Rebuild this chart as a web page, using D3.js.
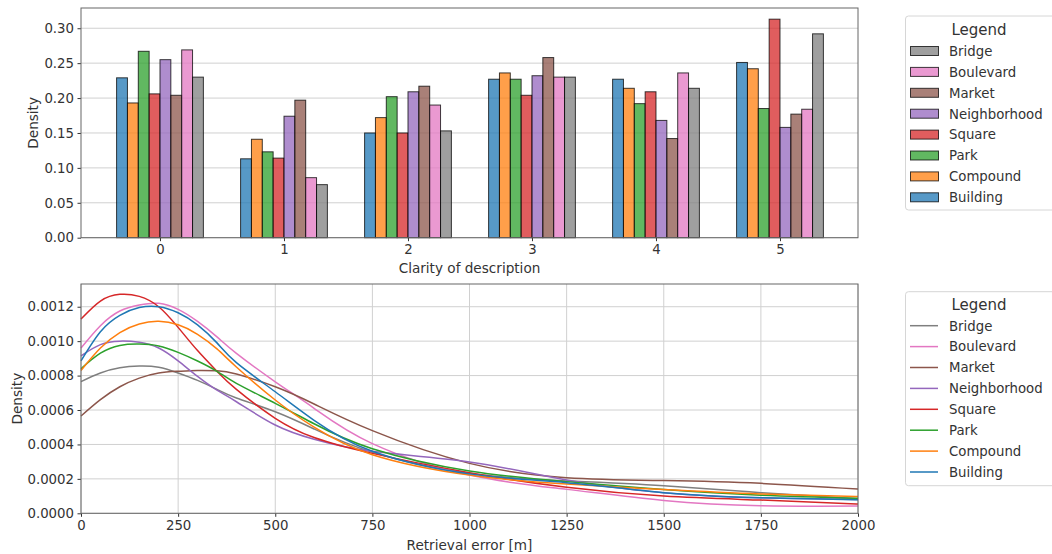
<!DOCTYPE html>
<html>
<head>
<meta charset="utf-8">
<script src="https://cdn.jsdelivr.net/npm/d3@7"></script>
<style>
    body { margin: 0; background: #fff; }
    svg text { font-family: "DejaVu Sans", sans-serif; fill: #333; }
</style>
</head>
<body>
<svg id="chart" width="1052" height="554"></svg>
<script>
// ---------- data ----------
const placeTypes = ["Building", "Compound", "Park", "Square", "Neighborhood", "Market", "Boulevard", "Bridge"];
const placeColors = ["#1f77b4", "#ff7f0e", "#2ca02c", "#d62728", "#9467bd", "#8c564b", "#e377c2", "#7f7f7f"];

// top panel: density per clarity level
const clarityLevels = [0, 1, 2, 3, 4, 5];
const buildingClarity     = [0.229, 0.113, 0.150, 0.227, 0.227, 0.251];
const compoundClarity     = [0.193, 0.141, 0.172, 0.236, 0.214, 0.242];
const parkClarity         = [0.267, 0.123, 0.202, 0.227, 0.192, 0.185];
const squareClarity       = [0.206, 0.114, 0.150, 0.204, 0.209, 0.313];
const neighborhoodClarity = [0.255, 0.174, 0.209, 0.232, 0.168, 0.158];
const marketClarity       = [0.204, 0.197, 0.217, 0.258, 0.142, 0.177];
const boulevardClarity    = [0.269, 0.086, 0.190, 0.230, 0.236, 0.184];
const bridgeClarity       = [0.230, 0.076, 0.153, 0.230, 0.214, 0.292];
const clarityTicks = [0, 0.05, 0.10, 0.15, 0.20, 0.25, 0.30];

// bottom panel: KDE of retrieval error, sampled on a grid
const errorGrid = [0, 50, 100, 150, 200, 250, 300, 350, 400, 500, 600, 750, 1000, 1250, 1500, 1750, 2000];
const buildingError     = [8.86, 10.55, 11.5, 11.95, 12.0, 11.65, 10.95, 9.9, 8.75, 7.06, 5.4, 3.6, 2.29, 1.78, 1.2, 0.9, 0.78];
const compoundError     = [8.3, 9.6, 10.5, 11.0, 11.15, 10.95, 10.4, 9.55, 8.5, 6.58, 5.0, 3.4, 2.22, 1.70, 1.38, 1.12, 0.97];
const parkError         = [8.4, 9.3, 9.75, 9.83, 9.72, 9.35, 8.85, 8.25, 7.55, 6.39, 5.2, 3.75, 2.46, 1.84, 1.38, 1.05, 0.87];
const squareError       = [11.28, 12.33, 12.72, 12.6, 12.0, 10.8, 9.45, 8.25, 7.2, 5.52, 4.4, 3.48, 2.36, 1.51, 1.0, 0.77, 0.54];
const neighborhoodError = [9.15, 9.8, 10.0, 9.93, 9.6, 8.85, 7.95, 7.15, 6.48, 5.13, 4.3, 3.6, 2.98, 1.94, 1.2, 0.9, 0.8];
const marketError       = [5.65, 6.6, 7.35, 7.85, 8.15, 8.25, 8.3, 8.28, 8.09, 7.35, 6.35, 4.8, 2.9, 2.07, 1.9, 1.74, 1.41];
const boulevardError    = [9.6, 10.9, 11.75, 12.1, 12.2, 11.85, 11.15, 10.25, 9.29, 7.64, 6.1, 4.05, 2.22, 1.39, 0.75, 0.44, 0.42];
const bridgeError       = [7.65, 8.15, 8.45, 8.55, 8.48, 8.15, 7.72, 7.2, 6.7, 5.9, 4.9, 3.55, 2.32, 1.88, 1.6, 1.2, 0.85];
const errorScaleFactor = 1e-4; // values above are in units of 0.0001
const errorTicks = [0, 250, 500, 750, 1000, 1250, 1500, 1750, 2000];
const densityTicks = [0, 0.0002, 0.0004, 0.0006, 0.0008, 0.0010, 0.0012];

// Build lookup tables from the arrays
const clarityTable = [buildingClarity, compoundClarity, parkClarity, squareClarity,
    neighborhoodClarity, marketClarity, boulevardClarity, bridgeClarity];
const errorTable = [buildingError, compoundError, parkError, squareError,
    neighborhoodError, marketError, boulevardError, bridgeError];

const svg = d3.select("#chart");

// ---------- top panel: dodged histogram ----------
const topBox = { left: 81, right: 858, top: 8, bottom: 237.7 };

const xBar = d3.scaleLinear()
    .domain([-0.637, 5.629])
    .range([topBox.left, topBox.right]);

const yBar = d3.scaleLinear()
    .domain([0, 0.329])
    .range([topBox.bottom, topBox.top]);

const groupWidth = 0.7;
const barWidth = groupWidth / placeTypes.length;

// horizontal grid
svg.append("g")
    .selectAll("line")
    .data(clarityTicks)
    .enter()
    .append("line")
    .attr("x1", topBox.left)
    .attr("x2", topBox.right)
    .attr("y1", d => yBar(d))
    .attr("y2", d => yBar(d))
    .attr("stroke", "#d0d0d0")
    .attr("stroke-width", 1);

// bars
const barData = [];
placeTypes.forEach((name, i) => {
    clarityLevels.forEach((level, j) => {
        barData.push({ series: i, level: level, value: clarityTable[i][j] });
    });
});

svg.append("g")
    .selectAll("rect")
    .data(barData)
    .enter()
    .append("rect")
    .attr("x", d => xBar(d.level - groupWidth / 2 + d.series * barWidth))
    .attr("y", d => yBar(d.value))
    .attr("width", d => xBar(barWidth) - xBar(0))
    .attr("height", d => yBar(0) - yBar(d.value))
    .attr("fill", d => placeColors[d.series])
    .attr("fill-opacity", 0.75)
    .attr("stroke", "#000")
    .attr("stroke-opacity", 0.75)
    .attr("stroke-width", 1);

// axes
const topYAxis = d3.axisLeft(yBar)
    .tickValues(clarityTicks)
    .tickFormat(d3.format(".2f"))
    .tickSize(3.5)
    .tickPadding(3.5);

const topXAxis = d3.axisBottom(xBar)
    .tickValues(clarityLevels)
    .tickFormat(d3.format("d"))
    .tickSize(3.5)
    .tickPadding(3.5);

styleAxis(svg.append("g")
    .attr("transform", `translate(${topBox.left}, 0)`)
    .call(topYAxis));

styleAxis(svg.append("g")
    .attr("transform", `translate(0, ${topBox.bottom})`)
    .call(topXAxis));

drawFrame(topBox);

svg.append("text")
    .attr("x", (topBox.left + topBox.right) / 2)
    .attr("y", 273)
    .attr("text-anchor", "middle")
    .style("font-size", "13.6px")
    .text("Clarity of description");

svg.append("text")
    .attr("transform", `translate(38.3, ${(topBox.top + topBox.bottom) / 2}) rotate(-90)`)
    .attr("text-anchor", "middle")
    .style("font-size", "13.6px")
    .text("Density");

// ---------- bottom panel: KDE lines ----------
const bottomBox = { left: 81, right: 858, top: 284, bottom: 513.3 };

const xErr = d3.scaleLinear()
    .domain([0, 2000])
    .range([bottomBox.left, bottomBox.right]);

const yErr = d3.scaleLinear()
    .domain([0, 0.001332])
    .range([bottomBox.bottom, bottomBox.top]);

// grid both ways
svg.append("g")
    .selectAll("line")
    .data(densityTicks)
    .enter()
    .append("line")
    .attr("x1", bottomBox.left)
    .attr("x2", bottomBox.right)
    .attr("y1", d => yErr(d))
    .attr("y2", d => yErr(d))
    .attr("stroke", "#d0d0d0");

svg.append("g")
    .selectAll("line")
    .data(errorTicks)
    .enter()
    .append("line")
    .attr("x1", d => xErr(d))
    .attr("x2", d => xErr(d))
    .attr("y1", bottomBox.top)
    .attr("y2", bottomBox.bottom)
    .attr("stroke", "#d0d0d0");

const kdeLine = d3.line()
    .x((d, i) => xErr(errorGrid[i]))
    .y(d => yErr(d * errorScaleFactor))
    .curve(d3.curveNatural);

// draw Bridge first so Building ends on top
svg.append("g")
    .selectAll("path")
    .data(placeTypes.map((name, i) => ({ name: name, index: i })).reverse())
    .enter()
    .append("path")
    .attr("d", d => kdeLine(errorTable[d.index]))
    .attr("fill", "none")
    .attr("stroke", d => placeColors[d.index])
    .attr("stroke-width", 1.5);

const bottomYAxis = d3.axisLeft(yErr)
    .tickValues(densityTicks)
    .tickFormat(d3.format(".4f"))
    .tickSize(3.5)
    .tickPadding(3.5);

const bottomXAxis = d3.axisBottom(xErr)
    .tickValues(errorTicks)
    .tickFormat(d3.format("d"))
    .tickSize(3.5)
    .tickPadding(3.5);

styleAxis(svg.append("g")
    .attr("transform", `translate(${bottomBox.left}, 0)`)
    .call(bottomYAxis));

styleAxis(svg.append("g")
    .attr("transform", `translate(0, ${bottomBox.bottom})`)
    .call(bottomXAxis));

drawFrame(bottomBox);

svg.append("text")
    .attr("x", (bottomBox.left + bottomBox.right) / 2)
    .attr("y", 549.5)
    .attr("text-anchor", "middle")
    .style("font-size", "13.6px")
    .text("Retrieval error [m]");

svg.append("text")
    .attr("transform", `translate(21.7, ${(bottomBox.top + bottomBox.bottom) / 2}) rotate(-90)`)
    .attr("text-anchor", "middle")
    .style("font-size", "13.6px")
    .text("Density");

// ---------- legends ----------
drawLegend(16, 35, 51, "patch");
drawLegend(291.7, 310, 325.7, "line");

function drawLegend(boxTop, titleY, firstY, kind) {
    const step = 20.9;
    const g = svg.append("g");
    // Legend lists series in reverse order (Bridge first)
    const order = placeTypes.map((name, i) => i).reverse();

    g.append("rect")
        .attr("x", 905.5)
        .attr("y", boxTop)
        .attr("width", 150)
        .attr("height", 194)
        .attr("rx", 3)
        .attr("fill", "#fff")
        .attr("stroke", "#d6d6d6");

    g.append("text")
        .attr("x", 979)
        .attr("y", titleY)
        .attr("text-anchor", "middle")
        .style("font-size", "15px")
        .text("Legend");

    order.forEach((idx, k) => {
        const cy = firstY + k * step;
        if (kind === "patch") {
            g.append("rect")
                .attr("x", 910.5)
                .attr("y", cy - 4.5)
                .attr("width", 28)
                .attr("height", 9)
                .attr("fill", placeColors[idx])
                .attr("fill-opacity", 0.75)
                .attr("stroke", "#000")
                .attr("stroke-opacity", 0.75);
        } else {
            g.append("line")
                .attr("x1", 910)
                .attr("x2", 938)
                .attr("y1", cy)
                .attr("y2", cy)
                .attr("stroke", placeColors[idx])
                .attr("stroke-width", 1.5);
        }
        g.append("text")
            .attr("x", 949)
            .attr("y", cy + 4.8)
            .style("font-size", "13.3px")
            .text(placeTypes[idx]);
    });
}

function styleAxis(axisG) {
    axisG.select(".domain").remove();
    axisG.selectAll(".tick line").attr("stroke", "#333");
    axisG.selectAll(".tick text")
        .style("font-size", "13.3px")
        .attr("fill", "#333");
}

function drawFrame(box) {
    svg.append("rect")
        .attr("x", box.left)
        .attr("y", box.top)
        .attr("width", box.right - box.left)
        .attr("height", box.bottom - box.top)
        .attr("fill", "none")
        .attr("stroke", "#666")
        .attr("stroke-width", 1);
}
</script>
</body>
</html>
